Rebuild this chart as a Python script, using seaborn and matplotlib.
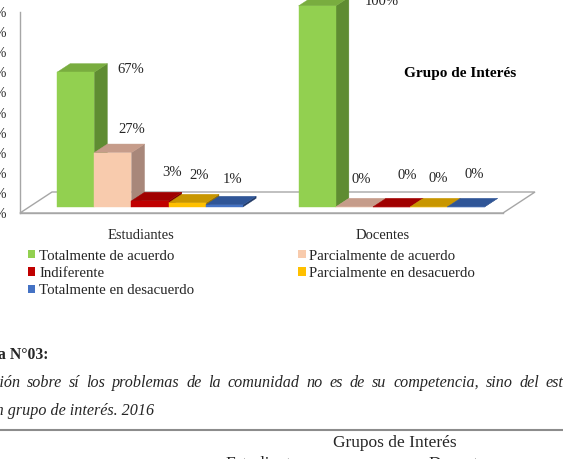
import matplotlib
matplotlib.use("Agg")
from matplotlib import pyplot as plt
from matplotlib.patches import Polygon, Patch
from matplotlib.lines import Line2D
import pandas as pd
import seaborn as sns

# ---------------- data ----------------
grupos = ["Estudiantes", "Docentes"]
respuestas = [
    "Totalmente de acuerdo",
    "Parcialmente de acuerdo",
    "Indiferente",
    "Parcialmente en desacuerdo",
    "Totalmente en desacuerdo",
]
estudiantes = [67, 27, 3, 2, 1]
docentes = [100, 0, 0, 0, 0]

# ---------------- styles ----------------
color_frente = ["#92D050", "#F8CBAD", "#C00000", "#FFC000", "#4472C4"]
color_lado = ["#5F8C32", "#A8877A", "#7A0000", "#9A7300", "#203864"]
color_techo = ["#79AD3F", "#C69C8A", "#A00000", "#C89600", "#2F5597"]
# label offsets (pixels) from the top-front centre of each bar
offs_est = [(55, 3), (19, 23), (22, 28), (12, 27), (8, 25)]
offs_doc = [(65, 4), (7, 27), (16, 31), (10, 28), (8, 32)]
GRIS = "#A6A6A6"

data = pd.DataFrame({
    "Grupo": [g for g in grupos for _ in respuestas],
    "Respuesta": respuestas * len(grupos),
    "Porcentaje": estudiantes + docentes,
})

sns.set_style("white")
plt.rcParams["font.family"] = ["Liberation Serif", "DejaVu Serif"]

W, H = 563, 459
fig = plt.figure(figsize=(W / 100, H / 100), dpi=100)


def fx(px):
    return px / W


def fy(py):
    return 1 - py / H


ax = fig.add_axes([fx(20), fy(213), 483 / W, 201 / H])
sns.barplot(
    data=data, x="Grupo", y="Porcentaje", hue="Respuesta",
    order=grupos, hue_order=respuestas, palette=color_frente,
    saturation=1, width=0.77, legend=False, ax=ax,
)
ax.set_xlim(-0.5, 1.5)
ax.set_ylim(0, 100)

# pseudo 3D depth, in data units
ppx = 483 / 2.0
ppy = 201 / 100.0
Dx, Dy = 32 / ppx, 21 / ppy
f0, f1 = 0.29, 0.70

bars = sorted(list(ax.patches)[:len(data)], key=lambda p: p.get_x())

# floor
piso = Polygon([(-0.5, 0), (-0.5 + Dx, Dy), (1.5 + Dx, Dy), (1.5, 0)],
               closed=True, fill=False, edgecolor=GRIS, lw=1, zorder=1, clip_on=False)
ax.add_patch(piso)

offsets = offs_est + offs_doc
for i, p in enumerate(bars):
    k = i % len(respuestas)
    x0 = p.get_x() + f0 * Dx
    y0 = f0 * Dy
    w = p.get_width()
    h = p.get_height()
    dx, dy = (f1 - f0) * Dx, (f1 - f0) * Dy
    p.set_x(x0)
    p.set_y(y0)
    p.set_edgecolor(color_frente[k])
    p.set_linewidth(0.3)
    p.set_zorder(3 + 3 * i + 2)
    p.set_clip_on(False)
    lado = Polygon([(x0 + w, y0), (x0 + w + dx, y0 + dy), (x0 + w + dx, y0 + h + dy), (x0 + w, y0 + h)],
                   closed=True, facecolor=color_lado[k], edgecolor=color_lado[k], lw=0.3,
                   zorder=3 + 3 * i, clip_on=False)
    techo = Polygon([(x0, y0 + h), (x0 + w, y0 + h), (x0 + w + dx, y0 + h + dy), (x0 + dx, y0 + h + dy)],
                    closed=True, facecolor=color_techo[k], edgecolor=color_techo[k], lw=0.3,
                    zorder=3 + 3 * i + 1, clip_on=False)
    ax.add_patch(lado)
    ax.add_patch(techo)
    ax.annotate(f"{h:.0f}%", (x0 + w / 2, y0 + h), xytext=offsets[i],
                textcoords="offset pixels", ha="center", va="center",
                fontsize=10.5, color="#262626", zorder=50, annotation_clip=False)

# axes look
for s in ["top", "right"]:
    ax.spines[s].set_visible(False)
for s in ["left", "bottom"]:
    ax.spines[s].set_color(GRIS)
    ax.spines[s].set_linewidth(1)
ax.set_yticks(range(0, 101, 10), [f"{v}%" for v in range(0, 101, 10)])
ax.tick_params(axis="y", length=3, color=GRIS, pad=6.5, labelsize=10, labelcolor="#262626")
ax.set_xticks([0, 1], grupos)
ax.set_xticks([-0.5, 0.5, 1.5], minor=True)
ax.tick_params(axis="x", which="major", length=0, pad=11.5, labelsize=10.5, labelcolor="#262626")
ax.tick_params(axis="x", which="minor", length=5, color=GRIS)
ax.set_xlabel("")
ax.set_ylabel("")
ax.grid(False)

fig.text(fx(460), fy(73), "Grupo de Interés", ha="center", va="center",
         fontsize=11, fontweight="bold", color="#000000")

# legend
orden = [0, 2, 4, 1, 3]
handles = [Patch(facecolor=color_frente[j], edgecolor="none") for j in orden]
labels = [respuestas[j] for j in orden]
fig.legend(handles, labels, ncol=2, loc="upper left", bbox_to_anchor=(fx(28), fy(249.5)),
           frameon=False, fontsize=10.7, handlelength=0.5, handleheight=0.5,
           handletextpad=0.25, columnspacing=7.0, labelspacing=0.3,
           borderpad=0, borderaxespad=0, labelcolor="#262626")

# document text under the chart
fig.text(fx(48), fy(355), "Tabla N°03:", ha="right", va="center", fontsize=11.3, fontweight="bold")

palabras = ["Opinión", "sobre", "sí", "los", "problemas", "de", "la", "comunidad", "no",
            "es", "de", "su", "competencia,", "sino", "del", "estado,"]
renderer = fig.canvas.get_renderer()
textos = [fig.text(0, fy(383), t, ha="left", va="center", fontsize=11.6, style="italic")
          for t in palabras]
anchos = [t.get_window_extent(renderer).width for t in textos]
gap = (546 - 20 - sum(anchos[1:-1])) / (len(palabras) - 1)
x = 20 - anchos[0]
for t, a in zip(textos, anchos):
    t.set_x(fx(x))
    x += a + gap

fig.text(fx(154), fy(411), "según grupo de interés. 2016", ha="right", va="center",
         fontsize=11.6, style="italic")
fig.add_artist(Line2D([0, 1], [fy(430), fy(430)], color="#8C8C8C", lw=1.5))
fig.text(fx(395), fy(443), "Grupos de Interés", ha="center", va="center", fontsize=12.5)
fig.text(fx(225), fy(455.5), "Estudiantes", ha="left", va="top", fontsize=12.5)
fig.text(fx(428), fy(455.5), "Docentes", ha="left", va="top", fontsize=12.5)

fig.savefig("out.png", dpi=100)
plt.close()
